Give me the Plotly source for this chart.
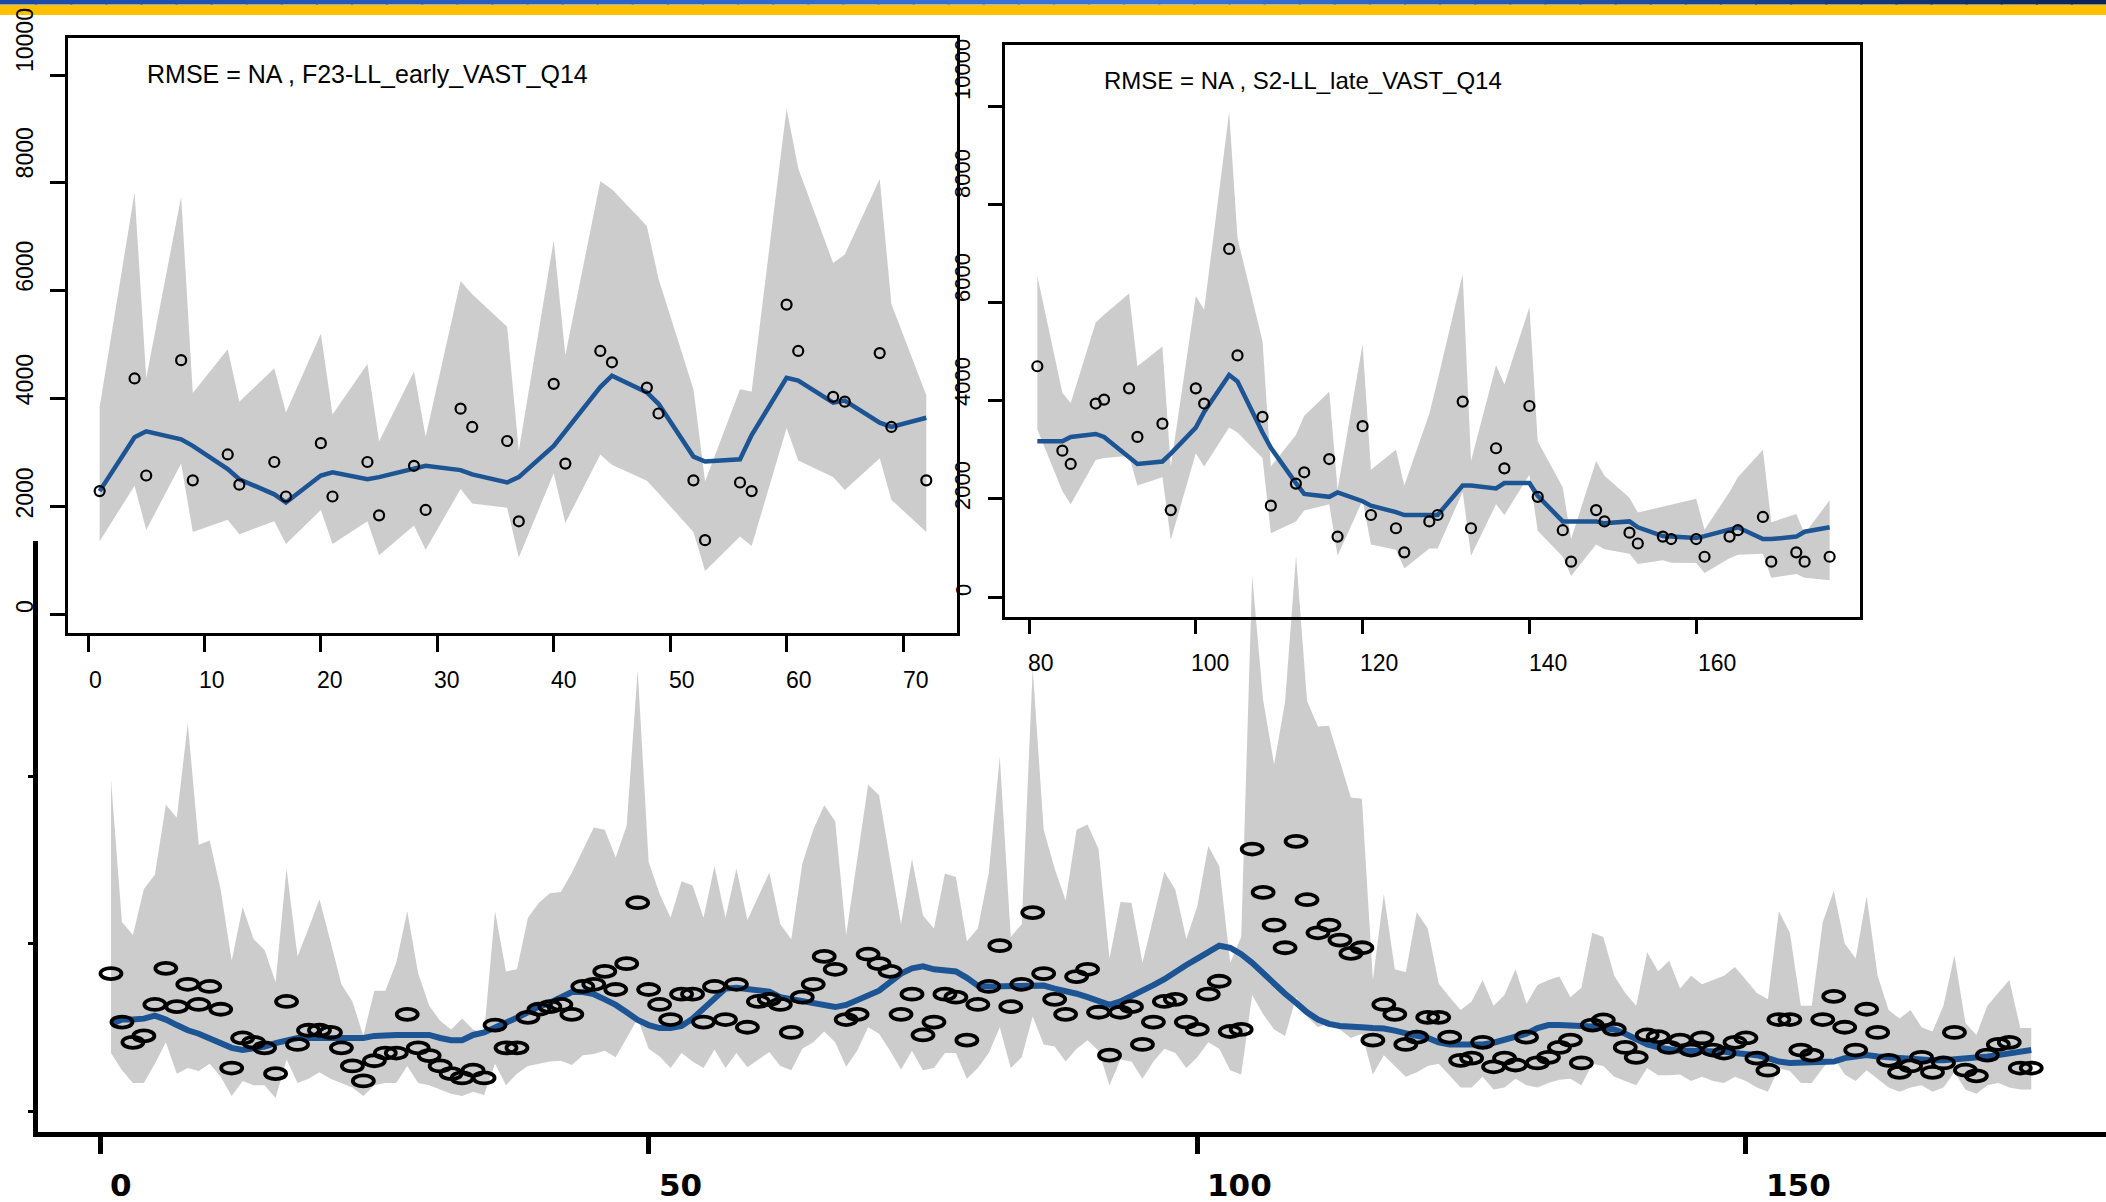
import plotly.graph_objects as go

W, H = 2106, 1202

# ---------------- inset 1: F23-LL_early_VAST_Q14 ----------------
f23_x = [1, 4, 5, 8, 9, 12, 13, 16, 17, 20, 21, 24, 25, 28, 29, 32, 33, 36,
         37, 40, 41, 44, 45, 48, 49, 52, 53, 56, 57, 60, 61, 64, 65, 68, 69, 72]
f23_obs = [2280, 4370, 2570, 4710, 2480, 2960, 2400, 2820, 2180, 3170, 2180, 2820,
           1830, 2750, 1930, 3810, 3470, 3210, 1720, 4270, 2790, 4880, 4670, 4200,
           3720, 2480, 1370, 2440, 2280, 5740, 4880, 4030, 3940, 4840, 3470, 2480]
f23_fit = [2280, 3280, 3390, 3240, 3120, 2690, 2500, 2220, 2070, 2570, 2630, 2500,
           2540, 2710, 2750, 2670, 2590, 2440, 2540, 3120, 3390, 4210, 4420, 4110,
           3900, 2920, 2830, 2870, 3320, 4380, 4330, 3920, 3960, 3550, 3470, 3640]
f23_hi = [3840, 7820, 4380, 7740, 4100, 4910, 3940, 4560, 3740, 5200, 3700, 4640,
          3200, 4500, 3290, 6180, 5930, 5330, 3030, 6930, 4800, 8030, 7880, 7200,
          6220, 4170, 2460, 4170, 4130, 9380, 8270, 6510, 6670, 8070, 5750, 4060]
f23_lo = [1350, 2380, 1560, 2790, 1520, 1750, 1480, 1720, 1300, 1930, 1300, 1720,
          1090, 1640, 1190, 2320, 2050, 1970, 1050, 2610, 1690, 2960, 2770, 2470,
          2240, 1520, 800, 1440, 1260, 3450, 2850, 2540, 2300, 2890, 2120, 1520]

# ---------------- inset 2: S2-LL_late_VAST_Q14 ----------------
s2_x = [81, 84, 85, 88, 89, 92, 93, 96, 97, 100, 101, 104, 105, 108, 109, 112,
        113, 116, 117, 120, 121, 124, 125, 128, 129, 132, 133, 136, 137, 140, 141,
        144, 145, 148, 149, 152, 153, 156, 157, 160, 161, 164, 165, 168, 169, 172,
        173, 176]
s2_obs = [4700, 2980, 2710, 3940, 4020, 4250, 3260, 3530, 1770, 4250, 3940, 7090,
          4920, 3670, 1860, 2310, 2540, 2810, 1230, 3480, 1670, 1400, 910, 1540,
          1670, 3980, 1400, 3030, 2620, 3890, 2040, 1360, 720, 1770, 1540, 1310,
          1090, 1230, 1180, 1180, 820, 1230, 1360, 1630, 720, 910, 720, 820]
s2_fit = [3170, 3170, 3260, 3320, 3260, 2830, 2710, 2760, 2920, 3450, 3770, 4520,
          4390, 3350, 3040, 2320, 2100, 2040, 2130, 1950, 1860, 1730, 1670, 1670,
          1670, 2270, 2270, 2210, 2320, 2320, 2060, 1540, 1540, 1540, 1500, 1540,
          1420, 1240, 1230, 1200, 1240, 1390, 1420, 1180, 1180, 1230, 1330, 1420]
s2_hi = [6540, 4160, 3950, 5590, 5750, 6180, 4700, 5100, 2660, 6130, 5850, 9880,
         7310, 5210, 2660, 3300, 3690, 4180, 2190, 5150, 2590, 3000, 2270, 3730,
         4420, 6580, 2770, 4720, 4330, 5900, 3170, 2230, 1180, 2770, 2470, 2020,
         1720, 1840, 1870, 2000, 1370, 2140, 2440, 3000, 1520, 1690, 1290, 1970]
s2_lo = [3410, 2160, 1890, 2790, 2830, 2870, 2270, 2440, 1160, 2930, 2660, 3450,
         3350, 2830, 1300, 1540, 1760, 1890, 840, 1970, 1070, 960, 580, 990,
         990, 2140, 840, 1890, 1670, 2490, 1350, 820, 430, 1070, 970, 880,
         670, 750, 700, 690, 490, 790, 860, 880, 390, 470, 390, 340]

# ---------------- main panel: all periods ----------------
all_x = list(range(1, 177))
all_obs = [1641, 1062, 820, 897, 1272, 1703, 1246, 1513, 1272, 1487,
           1215, 513, 872, 820, 754, 446, 1308, 795, 964, 964,
           938, 754, 538, 359, 600, 692, 692, 1154, 754, 662,
           538, 446, 395, 487, 395, 1026, 754, 754, 1118, 1215,
           1246, 1272, 1154, 1487, 1513, 1667, 1451, 1759, 2487, 1451,
           1272, 1092, 1395, 1395, 1062, 1487, 1092, 1513, 1000, 1308,
           1333, 1272, 938, 1359, 1513, 1846, 1692, 1092, 1154, 1872,
           1759, 1667, 1154, 1395, 908, 1062, 1395, 1359, 846, 1272,
           1487, 1974, 1246, 1513, 2369, 1641, 1333, 1154, 1605, 1692,
           1179, 667, 1179, 1246, 795, 1062, 1308, 1333, 1062, 974,
           1395, 1549, 949, 974, 3128, 2610, 2220, 1949, 3220, 2523,
           2128, 2220, 2041, 1882, 1949, 846, 1272, 1154, 795, 882,
           1118, 1118, 882, 605, 631, 820, 528, 631, 549, 882,
           574, 641, 759, 846, 574, 1026, 1087, 974, 759, 641,
           908, 887, 759, 846, 728, 872, 728, 692, 820, 872,
           631, 487, 1092, 1092, 728, 667, 1092, 1369, 1000, 728,
           1215, 938, 605, 462, 538, 641, 462, 574, 938, 487,
           420, 667, 795, 820, 513, 513]
all_fit = [1036, 1092, 1092, 1103, 1138, 1092, 1026, 964, 923, 872,
           810, 754, 728, 744, 769, 810, 846, 872, 872, 872,
           872, 872, 872, 872, 897, 908, 908, 908, 908, 908,
           872, 846, 846, 908, 938, 990, 1051, 1113, 1179, 1246,
           1292, 1359, 1420, 1420, 1395, 1333, 1267, 1179, 1087, 1026,
           990, 990, 1015, 1103, 1215, 1344, 1462, 1472, 1462, 1451,
           1426, 1359, 1333, 1308, 1282, 1256, 1241, 1267, 1318, 1369,
           1436, 1538, 1641, 1703, 1728, 1692, 1677, 1667, 1590, 1497,
           1487, 1487, 1503, 1503, 1503, 1497, 1462, 1436, 1400, 1359,
           1318, 1267, 1308, 1369, 1436, 1503, 1574, 1667, 1744, 1820,
           1897, 1974, 1949, 1872, 1769, 1641, 1523, 1400, 1292, 1179,
           1092, 1041, 1015, 1000, 1000, 990, 985, 959, 923, 897,
           872, 820, 795, 795, 795, 795, 815, 846, 882, 923,
           990, 1026, 1026, 1026, 1026, 1010, 990, 974, 923, 856,
           795, 759, 733, 718, 718, 718, 708, 708, 692, 682,
           667, 631, 590, 574, 574, 574, 574, 590, 631, 651,
           667, 651, 641, 631, 615, 615, 605, 605, 615, 615,
           631, 651, 667, 692, 718, 728]
all_hi = [3959, 2256, 2102, 2651, 2820, 3656, 3502, 4631, 3179, 3231,
          2641, 1795, 2436, 2051, 1923, 1538, 2897, 1846, 2179, 2528,
          2026, 1513, 1308, 897, 1436, 1436, 1769, 2385, 1641, 1256,
          1077, 974, 1103, 974, 923, 2385, 1667, 1692, 2308, 2487,
          2600, 2615, 2846, 3113, 3385, 3359, 3026, 3410, 5266, 2974,
          2590, 2308, 2743, 2692, 2308, 2923, 2308, 2897, 2282, 2564,
          2846, 2231, 2051, 2949, 3359, 3651, 3461, 2102, 3000, 3897,
          3769, 3010, 2231, 3010, 2333, 2179, 2836, 2795, 2026, 2179,
          2846, 4231, 2077, 2231, 5282, 3359, 2897, 2513, 3359, 3420,
          3128, 1820, 2497, 2487, 1769, 2308, 2856, 2641, 2051, 2446,
          3164, 2923, 1769, 2077, 6395, 4908, 4138, 4887, 6631, 4897,
          4590, 4600, 4179, 3744, 3728, 1564, 2590, 1692, 1656, 2374,
          2179, 1523, 1359, 1205, 1308, 1564, 1256, 1385, 1692, 1282,
          1503, 1564, 1605, 1359, 1472, 2128, 2077, 1615, 1410, 1256,
          1897, 1667, 1795, 1462, 1615, 1513, 1564, 1615, 1718, 1564,
          1410, 1333, 2385, 2128, 1256, 1256, 2256, 2626, 2000, 1820,
          2564, 1615, 1205, 1103, 1205, 1000, 949, 1256, 1861, 1051,
          908, 1256, 1410, 1564, 990, 990]
all_lo = [692, 487, 333, 333, 564, 820, 446, 513, 477, 564,
          410, 179, 359, 308, 308, 154, 615, 333, 385, 462,
          385, 333, 282, 179, 308, 333, 333, 538, 333, 308,
          256, 205, 179, 231, 190, 564, 308, 446, 538, 564,
          590, 600, 549, 667, 682, 718, 641, 872, 1103, 744,
          651, 513, 692, 590, 513, 733, 513, 692, 523, 615,
          703, 538, 487, 744, 820, 949, 820, 528, 718, 1000,
          923, 718, 497, 718, 487, 513, 692, 692, 385, 513,
          692, 1000, 513, 641, 1128, 795, 769, 590, 744, 846,
          718, 308, 615, 590, 385, 590, 744, 692, 513, 641,
          820, 744, 487, 436, 1385, 1154, 974, 897, 1359, 1128,
          1000, 1051, 974, 872, 923, 436, 667, 538, 410, 462,
          538, 564, 426, 282, 282, 410, 256, 282, 385, 308,
          282, 333, 374, 385, 308, 564, 538, 410, 359, 308,
          513, 426, 426, 436, 359, 410, 359, 333, 410, 359,
          282, 231, 513, 477, 333, 333, 513, 641, 436, 359,
          487, 385, 282, 231, 282, 308, 231, 282, 462, 256,
          205, 308, 333, 282, 256, 256]

inset1_ticks = [0, 10, 20, 30, 40, 50, 60, 70]
inset2_ticks = [80, 100, 120, 140, 160]
inset_yticks = [0, 2000, 4000, 6000, 8000, 10000]
main_xticks = [0, 50, 100, 150]
main_yticks = [0, 2000, 4000]

BAND = "#cccccc"
FIT = "#1c5494"
TXT = "Liberation Sans, Arial, sans-serif"


def px_to_val(p, p0, v0, ppu, flip=False):
    """Convert a page pixel position into an axis value."""
    return v0 + ((p0 - p) if flip else (p - p0)) / ppu


fig = go.Figure()


def band_and_fit(x, hi, lo, fit, xa, ya, lw):
    common = dict(xaxis=xa, yaxis=ya, hoverinfo="skip", showlegend=False)
    fig.add_trace(go.Scatter(x=x, y=hi, mode="lines", line=dict(width=0, color=BAND), **common))
    fig.add_trace(go.Scatter(x=x, y=lo, mode="lines", line=dict(width=0, color=BAND),
                             fill="tonexty", fillcolor=BAND, **common))
    fig.add_trace(go.Scatter(x=x, y=fit, mode="lines", line=dict(width=lw, color=FIT), **common))


# main panel
band_and_fit(all_x, all_hi, all_lo, all_fit, "x", "y", 6)
# inset panels
band_and_fit(f23_x, f23_hi, f23_lo, f23_fit, "x2", "y2", 4.5)
fig.add_trace(go.Scatter(x=f23_x, y=f23_obs, mode="markers", xaxis="x2", yaxis="y2",
                         marker=dict(symbol="circle-open", size=10, color="black", line=dict(width=2.2)),
                         hoverinfo="skip", showlegend=False))
band_and_fit(s2_x, s2_hi, s2_lo, s2_fit, "x3", "y3", 4.5)
fig.add_trace(go.Scatter(x=s2_x, y=s2_obs, mode="markers", xaxis="x3", yaxis="y3",
                         marker=dict(symbol="circle-open", size=10, color="black", line=dict(width=2.2)),
                         hoverinfo="skip", showlegend=False))

# ---- axes geometry (pixels of the page) ----
# main panel: x tick 0 at px 100, 10.973 px/unit; y value 0 at px 1111, 0.08375 px/unit
M_L, M_R, M_T, M_B = 38, W, 541, 1132
mx = lambda p: px_to_val(p, 100, 0, 10.973)
my = lambda p: px_to_val(p, 1111, 0, 0.08375, flip=True)
# inset 1
A_L, A_R, A_T, A_B = 68, 957, 38, 633
ax_ = lambda p: px_to_val(p, 88, 0, 11.643)
ay_ = lambda p: px_to_val(p, 614, 0, 0.0539, flip=True)
# inset 2
B_L, B_R, B_T, B_B = 1005, 1860, 45, 617
bx_ = lambda p: px_to_val(p, 1029, 80, 8.34)
by_ = lambda p: px_to_val(p, 597, 0, 0.0491, flip=True)

base = dict(showgrid=False, zeroline=False, showline=True, linecolor="black",
            ticks="outside", tickcolor="black", showticklabels=False)

fig.update_layout(
    width=W, height=H,
    margin=dict(l=0, r=0, t=0, b=0),
    paper_bgcolor="white", plot_bgcolor="rgba(0,0,0,0)",
    showlegend=False,
    xaxis=dict(base, domain=[M_L / W, M_R / W], range=[mx(M_L), mx(M_R)], anchor="y",
               linewidth=5, ticklen=17, tickwidth=5, tickvals=main_xticks),
    yaxis=dict(base, domain=[1 - M_B / H, 1 - M_T / H], range=[my(M_B), my(M_T)], anchor="x",
               linewidth=5, ticklen=5, tickwidth=3, tickvals=main_yticks),
    xaxis2=dict(base, domain=[A_L / W, A_R / W], range=[ax_(A_L), ax_(A_R)], anchor="y2",
                linewidth=2.5, mirror=True, ticklen=16, tickwidth=2.5, tickvals=inset1_ticks),
    yaxis2=dict(base, domain=[1 - A_B / H, 1 - A_T / H], range=[ay_(A_B), ay_(A_T)], anchor="x2",
                linewidth=2.5, mirror=True, ticklen=15, tickwidth=2.5, tickvals=inset_yticks),
    xaxis3=dict(base, domain=[B_L / W, B_R / W], range=[bx_(B_L), bx_(B_R)], anchor="y3",
                linewidth=2.5, mirror=True, ticklen=14, tickwidth=2.5, tickvals=inset2_ticks),
    yaxis3=dict(base, domain=[1 - B_B / H, 1 - B_T / H], range=[by_(B_B), by_(B_T)], anchor="x3",
                linewidth=2.5, mirror=True, ticklen=14, tickwidth=2.5, tickvals=inset_yticks),
)

ann = []
# inset titles
ann.append(dict(text="RMSE = NA , F23-LL_early_VAST_Q14", xref="paper", yref="paper",
                x=145 / W, y=1 - 74 / H, xanchor="left", yanchor="middle", showarrow=False,
                font=dict(family=TXT, size=25, color="black")))
ann.append(dict(text="RMSE = NA , S2-LL_late_VAST_Q14", xref="paper", yref="paper",
                x=1102 / W, y=1 - 81 / H, xanchor="left", yanchor="middle", showarrow=False,
                font=dict(family=TXT, size=24, color="black")))

# tick labels (rotated y labels, x labels below each panel)
for v in inset_yticks:
    ann.append(dict(text=str(v), xref="paper", yref="y2", x=25 / W, y=v, yshift=7 + 0.0028 * v,
                    textangle=-90, xanchor="center", yanchor="middle", showarrow=False,
                    font=dict(family=TXT, size=23, color="black")))
    ann.append(dict(text=str(v), xref="paper", yref="y3", x=963 / W, y=v, yshift=7 + 0.0029 * v,
                    textangle=-90, xanchor="center", yanchor="middle", showarrow=False,
                    font=dict(family=TXT, size=22, color="black")))
for v in inset1_ticks:
    ann.append(dict(text=str(v), xref="x2", yref="paper", x=v, y=1 - 680 / H, xshift=7 + 0.09 * v,
                    xanchor="center", yanchor="middle", showarrow=False,
                    font=dict(family=TXT, size=23, color="black")))
for v in inset2_ticks:
    ann.append(dict(text=str(v), xref="x3", yref="paper", x=v, y=1 - 663 / H, xshift=12 + 0.11 * (v - 80),
                    xanchor="center", yanchor="middle", showarrow=False,
                    font=dict(family=TXT, size=23, color="black")))
for v in main_xticks:
    ann.append(dict(text="<b>%d</b>" % v, xref="x", yref="paper", x=v, y=1 - 1185 / H,
                    xshift=20.8 + 0.213 * v, xanchor="center", yanchor="middle", showarrow=False,
                    font=dict(family="DejaVu Sans, sans-serif", size=31, color="black")))
fig.update_layout(annotations=ann)

shapes = []
# header strip: blue gradient over a yellow rule
blue_stops = [(0.00, (27, 74, 165)), (0.20, (40, 92, 190)), (0.40, (52, 108, 208)),
              (0.55, (62, 118, 218)), (0.70, (40, 92, 185)), (0.85, (22, 62, 138)),
              (1.00, (10, 36, 82))]
nseg = 60
for i in range(nseg):
    t = (i + 0.5) / nseg
    for (a, ca), (b, cb) in zip(blue_stops[:-1], blue_stops[1:]):
        if a <= t <= b:
            f = (t - a) / (b - a)
            c = tuple(int(ca[k] + f * (cb[k] - ca[k])) for k in range(3))
            break
    shapes.append(dict(type="rect", xref="paper", yref="paper", x0=i / nseg, x1=(i + 1) / nseg + 0.001,
                       y0=1 - 4.5 / H, y1=1, line=dict(width=0), fillcolor="rgb(%d,%d,%d)" % c, layer="above"))
shapes.append(dict(type="rect", xref="paper", yref="paper", x0=0, x1=1, y0=1 - 15 / H, y1=1 - 5 / H,
                   line=dict(width=0), fillcolor="#ffc000", layer="above"))

# open elliptical markers for the main panel observations
for xv, yv in zip(all_x, all_obs):
    shapes.append(dict(type="circle", xref="x", yref="y", xsizemode="pixel", ysizemode="pixel",
                       xanchor=xv, yanchor=yv, x0=-10.5, x1=10.5, y0=-5.5, y1=5.5,
                       line=dict(color="black", width=3.8), fillcolor="rgba(0,0,0,0)", layer="above"))
fig.update_layout(shapes=shapes)

fig.write_html("out.html")
